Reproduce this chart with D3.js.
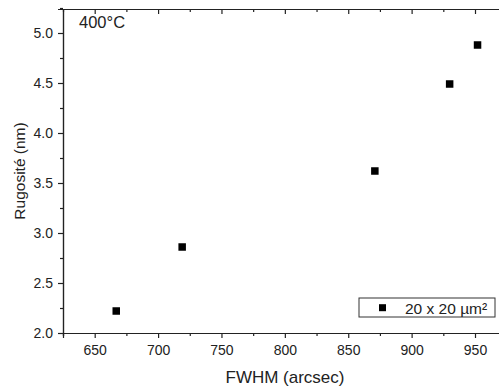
<!DOCTYPE html>
<html>
<head>
<meta charset="utf-8">
<script src="https://cdn.jsdelivr.net/npm/d3@7"></script>
<style>
  html, body { margin: 0; padding: 0; background: #fff; }
  svg { display: block; font-family: "Liberation Sans", Arial, sans-serif; }
</style>
</head>
<body>
<svg id="chart" width="499" height="390"></svg>
<script>
// ---- data ----
const fwhm = [667, 719, 871, 930, 952];
const rugosite = [2.22, 2.86, 3.62, 4.49, 4.88];
const xTicks = [650, 700, 750, 800, 850, 900, 950];
const xMinorTicks = [625, 675, 725, 775, 825, 875, 925, 975];
const yTicks = [2.0, 2.5, 3.0, 3.5, 4.0, 4.5, 5.0];
const yMinorTicks = [2.25, 2.75, 3.25, 3.75, 4.25, 4.75, 5.25];
const seriesName = "20 x 20 µm²";
const annotation = "400°C";
const xTitle = "FWHM (arcsec)";
const yTitle = "Rugosité (nm)";

// ---- layout ----
const svg = d3.select("#chart");
const mLeft = 63, mTop = 9, mBottom = 333;
const x = d3.scaleLinear().domain([625, 975]).range([mLeft, mLeft + 350 * 1.2677]);
const y = d3.scaleLinear().domain([2.0, 5.24]).range([mBottom, mTop]);
const axisColor = "#222";

function styleAxis(g, fontSize) {
  g.selectAll("path.domain").attr("stroke", axisColor).attr("stroke-width", 1.2);
  g.selectAll(".tick line").attr("stroke", axisColor).attr("stroke-width", 1.2);
  g.selectAll(".tick text").attr("fill", "#222").style("font-size", fontSize + "px")
    .style("font-family", '"Liberation Sans", Arial, sans-serif');
}

// bottom axis
const gxMinor = svg.append("g").attr("transform", `translate(0,${mBottom})`)
  .call(d3.axisBottom(x).tickValues(xMinorTicks).tickSize(3).tickFormat(""));
styleAxis(gxMinor, 14);
const gx = svg.append("g").attr("transform", `translate(0,${mBottom})`)
  .call(d3.axisBottom(x).tickValues(xTicks).tickSize(5).tickPadding(7).tickFormat(d3.format("d")));
styleAxis(gx, 14);

// top axis (ticks inward)
const gtMinor = svg.append("g").attr("transform", `translate(0,${mTop})`)
  .call(d3.axisTop(x).tickValues(xMinorTicks).tickSizeInner(-3).tickSizeOuter(0).tickFormat(""));
styleAxis(gtMinor, 14);
const gt = svg.append("g").attr("transform", `translate(0,${mTop})`)
  .call(d3.axisTop(x).tickValues(xTicks).tickSizeInner(-5).tickSizeOuter(0).tickFormat(""));
styleAxis(gt, 14);

// left axis
const gyMinor = svg.append("g").attr("transform", `translate(${mLeft},0)`)
  .call(d3.axisLeft(y).tickValues(yMinorTicks).tickSize(3).tickFormat(""));
styleAxis(gyMinor, 14);
const gy = svg.append("g").attr("transform", `translate(${mLeft},0)`)
  .call(d3.axisLeft(y).tickValues(yTicks).tickSize(5).tickPadding(5).tickFormat(d3.format(".1f")));
styleAxis(gy, 14);

// titles
svg.append("text").attr("x", 285).attr("y", 383).attr("text-anchor", "middle")
  .style("font-size", "17px").attr("fill", "#222").text(xTitle);
svg.append("text").attr("transform", `translate(25,${(mTop + mBottom) / 2}) rotate(-90)`)
  .attr("text-anchor", "middle").style("font-size", "15.5px").attr("fill", "#222").text(yTitle);

// annotation
svg.append("text").attr("x", 79).attr("y", 28).style("font-size", "16.5px").attr("fill", "#222").text(annotation);

// points
const sz = 7.5;
svg.append("g").selectAll("rect").data(fwhm.map((d, i) => [d, rugosite[i]]))
  .join("rect")
  .attr("x", d => x(d[0]) - sz / 2)
  .attr("y", d => y(d[1]) - sz / 2)
  .attr("width", sz).attr("height", sz)
  .attr("fill", "#000");

// legend
const lg = svg.append("g");
lg.append("rect").attr("x", 359).attr("y", 298).attr("width", 136).attr("height", 19)
  .attr("fill", "#fff").attr("stroke", "#333").attr("stroke-width", 1);
lg.append("rect").attr("x", 382.5 - 3.5).attr("y", 307.7 - 3.5).attr("width", 7).attr("height", 7).attr("fill", "#000");
lg.append("text").attr("x", 405).attr("y", 313.5).style("font-size", "15.5px").attr("fill", "#222").text(seriesName);
</script>
</body>
</html>
